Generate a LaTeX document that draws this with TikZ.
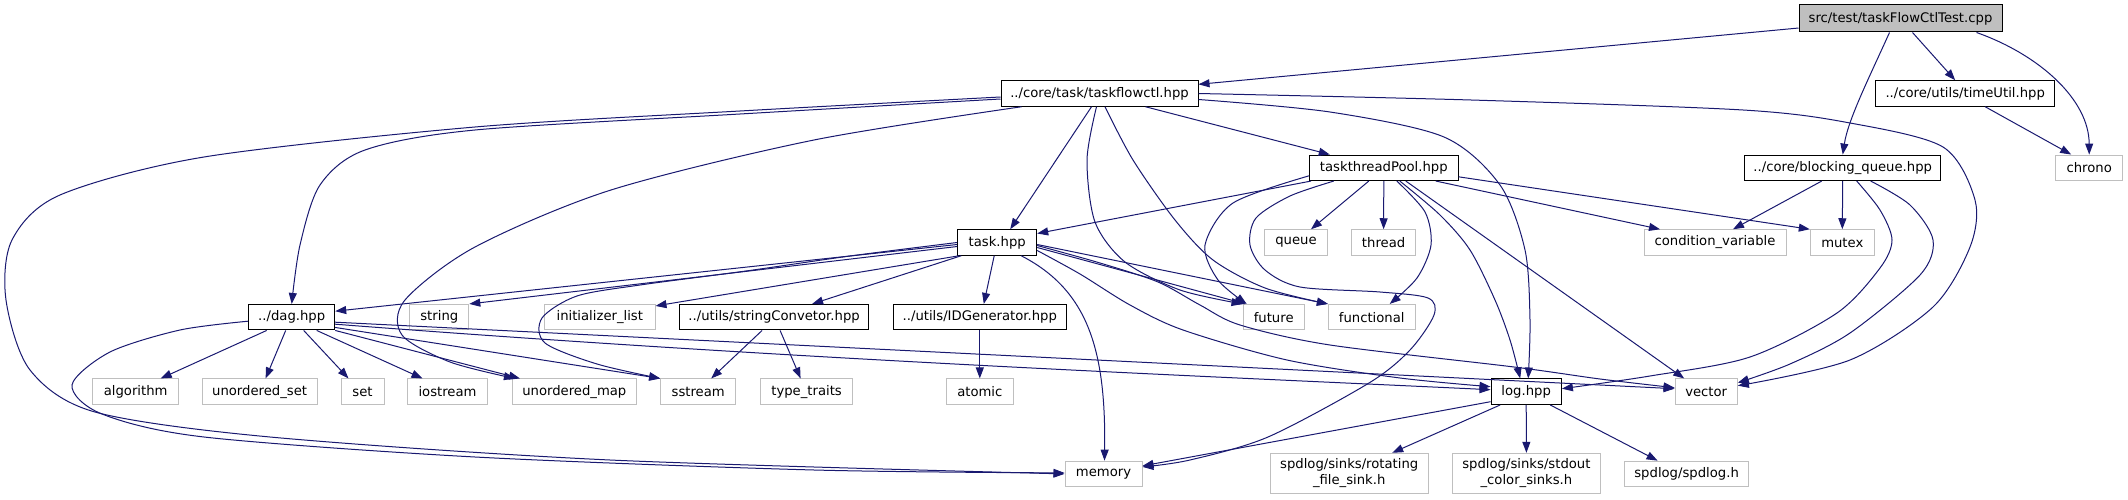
\documentclass[tikz,border=0pt]{standalone}
\usepackage{fontspec}
\setmainfont{DejaVu Sans}
\usetikzlibrary{arrows.meta}
\definecolor{edgeblue}{HTML}{191970}
\definecolor{sysgrey}{HTML}{BFBFBF}
\definecolor{srcgrey}{HTML}{BFBFBF}

\begin{document}
\begin{tikzpicture}[
    x=1pt, y=-1pt,
    font=\fontsize{13.2}{16}\selectfont,
    hdr/.style={rectangle, draw=black, fill=white, line width=1pt, inner sep=0pt, minimum height=25.5pt, align=center},
    sys/.style={hdr, draw=sysgrey},
    wd/.style={minimum width=#1pt},
    inc/.style={-{Triangle[length=11pt, width=8pt]}, edgeblue, line width=1pt}
]
\useasboundingbox (0,0) rectangle (2128,500);

\node[hdr, fill=srcgrey, wd=203, minimum height=27pt] (src) at (1900.5,18.5) {src/test/taskFlowCtlTest.cpp};
\node[hdr, wd=197] (tfc) at (1099.5,93.5) {../core/task/taskflowctl.hpp};
\node[hdr, wd=178.5] (timeutil) at (1965.2,93.5) {../core/utils/timeUtil.hpp};
\node[sys, wd=67] (chrono) at (2089.2,167.8) {chrono};
\node[hdr, wd=148.4] (pool) at (1383.8,167.8) {taskthreadPool.hpp};
\node[hdr, wd=196] (bq) at (1842.7,167.8) {../core/blocking\_queue.hpp};
\node[sys, wd=62.5] (queue) at (1296,242.5) {queue};
\node[sys, wd=64] (thread) at (1383.6,242.5) {thread};
\node[sys, wd=142] (condvar) at (1715,242.5) {condition\_variable};
\node[sys, wd=64] (mutex) at (1842.3,242.5) {mutex};
\node[hdr, wd=79] (task) at (997.2,242.5) {task.hpp};
\node[hdr, wd=86] (dag) at (291.7,317.2) {../dag.hpp};
\node[sys, wd=59] (string) at (439.3,317.2) {string};
\node[sys, wd=110.4] (initlist) at (599.8,317.2) {initializer\_list};
\node[hdr, wd=189.6] (strconv) at (774.1,317.2) {../utils/stringConvetor.hpp};
\node[hdr, wd=172.4] (idgen) at (979.8,317.2) {../utils/IDGenerator.hpp};
\node[sys, wd=61.4] (future) at (1273.7,317.2) {future};
\node[sys, wd=86.6] (functional) at (1371.7,317.2) {functional};
\node[sys, wd=85.7] (algorithm) at (135.7,391.7) {algorithm};
\node[sys, wd=114.8] (uset) at (259.6,391.7) {unordered\_set};
\node[sys, wd=43] (set) at (362.5,391.7) {set};
\node[sys, wd=80] (iostream) at (447.5,391.7) {iostream};
\node[sys, wd=123.7] (umap) at (574.3,391.7) {unordered\_map};
\node[sys, wd=75] (sstream) at (698.2,391.7) {sstream};
\node[sys, wd=91.8] (typetraits) at (806.6,391.7) {type\_traits};
\node[sys, wd=66.8] (atomic) at (979.8,391.7) {atomic};
\node[hdr, wd=70.4] (log) at (1526.2,391.7) {log.hpp};
\node[sys, wd=62.3] (vector) at (1706.2,391.7) {vector};
\node[sys, wd=77] (memory) at (1103.5,473.9) {memory};
\node[sys, wd=158.4, minimum height=40pt] (rotating) at (1349.2,473.3) {spdlog/sinks/rotating\\\_file\_sink.h};
\node[sys, wd=148, minimum height=40pt] (stdoutsink) at (1526.4,473.3) {spdlog/sinks/stdout\\\_color\_sinks.h};
\node[sys, wd=124.3] (spdlog) at (1686.6,473.9) {spdlog/spdlog.h};

\draw[inc] (src) -- (tfc);
\draw[inc] ([xshift=12pt]src.south) -- ([xshift=-10pt]timeutil.north);
\draw[inc] ([xshift=-11pt]src.south) .. controls (1868,80) and (1848,120) .. (bq.north);
\draw[inc] ([xshift=76pt]src.south) .. controls (2040,55) and (2089,100) .. (chrono.north);
\draw[inc] ([xshift=20pt]timeutil.south) -- ([xshift=-18pt]chrono.north);

\draw[inc] ([xshift=-8pt]tfc.south) -- ([xshift=13pt]task.north);
\draw[inc] ([xshift=46pt]tfc.south) -- ([xshift=-54pt]pool.north);
\draw[inc] plot[smooth] coordinates {([yshift=-5.5pt]tfc.west) (740,114) (475,130) (365,150) (320,185) (300,245) (dag.north)};
\draw[inc] plot[smooth] coordinates {([yshift=-3.5pt]tfc.west) (740,111) (475,127) (204,157) (60,195) (12,240) (6,300) (30,370) (95,412) (270,437) (610,460) (memory.west)};
\draw[inc] plot[smooth] coordinates {([xshift=-78pt]tfc.south) (814,140) (611,190) (475,247) (405,300) (402,335) (450,362) ([xshift=3pt]umap.north west)};
\draw[inc] plot[smooth] coordinates {([xshift=-3pt]tfc.south) (1087,160) (1095,222) (1125,262) (1180,290) (future.north west)};
\draw[inc] plot[smooth] coordinates {([xshift=5.5pt]tfc.south) (1133,160) (1175,220) (1213,260) (1265,288) (functional.north west)};
\draw[inc] plot[smooth] coordinates {([yshift=-6pt]tfc.east) (1330,112) (1444,137) (1500,185) (1525,250) (1530,320) ([xshift=2pt]log.north)};
\draw[inc] plot[smooth] coordinates {(tfc.east) (1471,100) (1743,110) (1850,123) (1943,147) (1975,200) (1970,247) (1933,307) (1850,360) ([yshift=6pt]vector.east)};

\draw[inc] ([yshift=-2pt]task.west) -- ([yshift=6pt]dag.east);
\draw[inc] ([yshift=-4pt]task.west) -- (string.north east);
\draw[inc] ([xshift=2pt]task.south west) -- ([yshift=-2pt]initlist.north east);
\draw[inc] ([xshift=4pt]task.south west) -- ([xshift=38pt]strconv.north);
\draw[inc] ([xshift=-3pt]task.south) -- ([xshift=4pt]idgen.north);
\draw[inc] plot[smooth] coordinates {(task.west) (850,256) (746,271) (640,285) (577,296) (542,318) (545,343) (597,364) (sstream.north west)};
\draw[inc] ([xshift=24pt]task.south) .. controls (1088,290) and (1106,350) .. ([xshift=1pt]memory.north);
\draw[inc] ([yshift=-5pt]task.east) -- ([xshift=3pt]future.north west);
\draw[inc] ([yshift=-2pt]task.east) -- (functional.north west);
\draw[inc] plot[smooth] coordinates {([yshift=-8pt]task.east) (1080,274) (1130,305) (1183,330) (1287,360) (1400,378) ([yshift=5pt]log.west)};
\draw[inc] plot[smooth] coordinates {([yshift=-3pt]task.east) (1100,263) (1158,282) (1200,305) (1240,325) (1330,345) (1514,367) (1600,379) ([yshift=4pt]vector.west)};

\draw[inc] ([xshift=2pt]pool.south west) -- ([yshift=9pt]task.east);
\draw[inc] ([xshift=-15pt]pool.south) -- ([xshift=15pt]queue.north);
\draw[inc] (pool.south) -- (thread.north);
\draw[inc] plot[smooth] coordinates {([yshift=-8pt]pool.west) (1233,203) (1205,245) (1218,280) ([xshift=-27pt]future.north)};
\draw[inc] plot[smooth] coordinates {([xshift=-50pt]pool.south) (1290,196) (1256,218) (1250,245) (1265,270) (1300,287) (1380,292) (1428,298) (1434,315) (1410,350) (1369,383) (1268,437) (1190,460) ([yshift=7pt]memory.east)};
\draw[inc] plot[smooth] coordinates {([xshift=13pt]pool.south) (1425,212) (1431,245) (1417,278) ([xshift=18pt]functional.north)};
\draw[inc] plot[smooth] coordinates {([xshift=16pt]pool.south) (1440,215) (1470,250) (1495,300) (1510,340) ([xshift=-6pt]log.north)};
\draw[inc] ([xshift=22pt]pool.south) -- ([xshift=-22pt]vector.north);
\draw[inc] ([xshift=52pt]pool.south) -- ([xshift=-55pt]condvar.north);
\draw[inc] ([yshift=-9pt]pool.east) -- (mutex.north west);

\draw[inc] ([xshift=-21pt]bq.south) -- ([xshift=18pt]condvar.north);
\draw[inc] (bq.south) -- (mutex.north);
\draw[inc] plot[smooth] coordinates {([xshift=14pt]bq.south) (1880,210) (1892,240) (1880,268) (1837,313) (1750,357) (1650,376) ([yshift=3pt]log.east)};
\draw[inc] plot[smooth] coordinates {([xshift=28pt]bq.south) (1910,205) (1933,240) (1920,275) (1850,333) (1790,364) ([yshift=9pt]vector.east)};

\draw[inc] ([xshift=-25pt]dag.south) -- ([xshift=25pt]algorithm.north);
\draw[inc] ([xshift=-6pt]dag.south) -- ([xshift=6pt]uset.north);
\draw[inc] ([xshift=12pt]dag.south) -- ([xshift=-14pt]set.north);
\draw[inc] ([xshift=25pt]dag.south) -- ([xshift=-25pt]iostream.north);
\draw[inc] (dag.south east) -- ([xshift=8pt]umap.north west);
\draw[inc] ([yshift=3pt]dag.south east) -- (sstream.north west);
\draw[inc] ([yshift=-5pt]dag.east) -- ([yshift=3pt]vector.west);
\draw[inc] ([yshift=-7pt]dag.east) .. controls (800,360) and (1200,376) .. ([yshift=2pt]log.west);
\draw[inc] plot[smooth] coordinates {([yshift=-4pt]dag.west) (180,330) (110,352) (72,385) (102,414) (204,437) (475,457) (814,470) ([yshift=1pt]memory.west)};

\draw[inc] ([yshift=-10pt]log.west) -- ([yshift=8pt]memory.east);
\draw[inc] ([xshift=-26pt]log.south) -- ([xshift=43pt]rotating.north);
\draw[inc] (log.south) -- (stdoutsink.north);
\draw[inc] ([xshift=24pt]log.south) -- ([xshift=-29pt]spdlog.north);

\draw[inc] ([xshift=-12pt]strconv.south) -- ([xshift=13pt]sstream.north);
\draw[inc] ([xshift=6pt]strconv.south) -- ([xshift=-6pt]typetraits.north);
\draw[inc] (idgen) -- (atomic);
\end{tikzpicture}
\end{document}
